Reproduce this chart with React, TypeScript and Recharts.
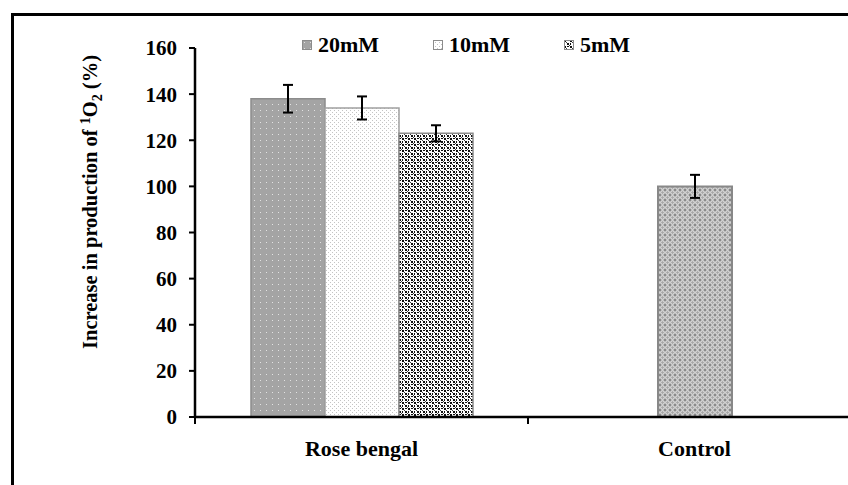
import React from "react";
import { BarChart, Bar, XAxis, YAxis, ErrorBar, Legend } from "recharts";

// Categories on the x axis
const categories = ["Rose bengal", "Control"];

// Singlet-oxygen production (%) per Rose bengal concentration, and the control
const rb20 = [138, null];
const rb10 = [134, null];
const rb5 = [123, null];
const control = [null, 100];

// Standard deviations drawn as error bars
const rb20Err = [6, null];
const rb10Err = [5, null];
const rb5Err = [3.5, null];
const controlErr = [null, 5];

const yTicks = [0, 20, 40, 60, 80, 100, 120, 140, 160];

const legendItems = [
  { label: "20mM", fill: "url(#pat20)" },
  { label: "10mM", fill: "url(#pat10)" },
  { label: "5mM", fill: "url(#pat5)" },
];

const data = categories.map((name, i) => ({
  name,
  rb20: rb20[i],
  rb10: rb10[i],
  rb5: rb5[i],
  control: control[i],
  rb20Err: rb20Err[i],
  rb10Err: rb10Err[i],
  rb5Err: rb5Err[i],
  controlErr: controlErr[i],
}));

const FONT = "'Liberation Serif', 'Times New Roman', serif";

const CategoryTick = (props: any) => {
  const { x, y, payload } = props;
  const off = payload && payload.offset ? payload.offset : 0;
  return (
    <g>
      <line x1={x - off} y1={y} x2={x - off} y2={y + 7} stroke="#000" strokeWidth={2} />
      <line x1={x + off} y1={y} x2={x + off} y2={y + 7} stroke="#000" strokeWidth={2} />
      <text
        x={x}
        y={y + 39}
        textAnchor="middle"
        fontFamily={FONT}
        fontWeight="bold"
        fontSize={22}
        fill="#000"
      >
        {payload.value}
      </text>
    </g>
  );
};

const YLabel = () => (
  <text
    transform="translate(97,202) rotate(-90)"
    textAnchor="middle"
    fontFamily={FONT}
    fontWeight="bold"
    fontSize={20.5}
    fill="#000"
  >
    <tspan>Increase in production of </tspan>
    <tspan dy={-7} fontSize={14}>1</tspan>
    <tspan dy={7}>O</tspan>
    <tspan dy={5} fontSize={14}>2</tspan>
    <tspan dy={-5}> (%)</tspan>
  </text>
);

const LegendContent = () => (
  <div style={{ position: "relative", height: 24 }}>
    {legendItems.map((item, i) => (
      <div
        key={item.label}
        style={{
          position: "absolute",
          left: i * 131,
          top: 0,
          display: "flex",
          alignItems: "center",
          whiteSpace: "nowrap",
        }}
      >
        <svg width={10} height={10} style={{ marginRight: 6 }}>
          <rect x={0.5} y={0.5} width={9} height={9} fill={item.fill} stroke="#8c8c8c" strokeWidth={1} />
        </svg>
        <span
          style={{
            fontFamily: FONT,
            fontWeight: "bold",
            fontSize: 22,
            lineHeight: "22px",
            color: "#000",
          }}
        >
          {item.label}
        </span>
      </div>
    ))}
  </div>
);

export default function App() {
  return (
    <div
      style={{
        position: "fixed",
        left: 0,
        top: 0,
        width: 848,
        height: 485,
        overflow: "hidden",
        background: "#fff",
      }}
    >
      <div
        style={{
          position: "absolute",
          left: 11,
          top: 13,
          width: 900,
          height: 500,
          border: "3px solid #000",
        }}
      />
      <div style={{ position: "absolute", left: 0, top: 0 }}>
        <BarChart
          width={880}
          height={485}
          data={data}
          margin={{ top: 48, right: 19, bottom: 38, left: 0 }}
          barGap={0}
        >
          <defs>
            <pattern id="pat20" width={6} height={6} patternUnits="userSpaceOnUse">
              <rect width={6} height={6} fill="#a4a4a4" />
              <rect x={2} y={2} width={1} height={1} fill="#e2e2e2" />
            </pattern>
            <pattern id="pat10" width={4} height={4} patternUnits="userSpaceOnUse">
              <rect width={4} height={4} fill="#ffffff" />
              <rect x={0} y={0} width={1} height={1} fill="#c4c4c4" />
              <rect x={2} y={2} width={1} height={1} fill="#c4c4c4" />
            </pattern>
            <pattern id="pat5" width={6} height={6} patternUnits="userSpaceOnUse">
              <rect width={6} height={6} fill="#ffffff" />
              <rect x={0} y={0} width={2} height={2} fill="#111" />
              <rect x={3} y={0} width={2} height={1} fill="#111" />
              <rect x={3} y={3} width={2} height={2} fill="#111" />
              <rect x={0} y={3} width={1} height={2} fill="#111" />
              <rect x={2} y={2} width={1} height={1} fill="#444" />
              <rect x={5} y={5} width={1} height={1} fill="#444" />
            </pattern>
            <pattern id="patCtl" width={5} height={5} patternUnits="userSpaceOnUse">
              <rect width={5} height={5} fill="#8a8a8a" />
              <circle cx={2.5} cy={2.5} r={1.9} fill="#a6a6a6" stroke="#f2f2f2" strokeWidth={0.9} />
            </pattern>
          </defs>
          <XAxis
            dataKey="name"
            axisLine={{ stroke: "#000", strokeWidth: 2.5 }}
            tickLine={false}
            tickSize={0}
            tickMargin={0}
            height={30}
            tick={<CategoryTick />}
            interval={0}
          />
          <XAxis xAxisId="ctl" dataKey="name" hide />
          <YAxis
            width={195}
            domain={[0, 160]}
            ticks={yTicks}
            interval={0}
            axisLine={{ stroke: "#000", strokeWidth: 2.5 }}
            tickLine={{ stroke: "#000", strokeWidth: 2 }}
            tickSize={6}
            tickMargin={12}
            tick={{ fontFamily: FONT, fontWeight: "bold", fontSize: 21, fill: "#000" }}
            label={<YLabel />}
          />
          <Legend
            layout="horizontal"
            verticalAlign="middle"
            align="center"
            wrapperStyle={{ position: "absolute", left: 302, top: 34, width: 420 }}
            content={<LegendContent />}
          />
          <Bar dataKey="rb20" name="20mM" barSize={74} fill="url(#pat20)" stroke="#8c8c8c" strokeWidth={1.5} isAnimationActive={false}>
            <ErrorBar dataKey="rb20Err" width={5} stroke="#000" strokeWidth={2} direction="y" />
          </Bar>
          <Bar dataKey="rb10" name="10mM" barSize={74} fill="url(#pat10)" stroke="#a0a0a0" strokeWidth={1.5} isAnimationActive={false}>
            <ErrorBar dataKey="rb10Err" width={5} stroke="#000" strokeWidth={2} direction="y" />
          </Bar>
          <Bar dataKey="rb5" name="5mM" barSize={74} fill="url(#pat5)" stroke="#8c8c8c" strokeWidth={1.5} isAnimationActive={false}>
            <ErrorBar dataKey="rb5Err" width={5} stroke="#000" strokeWidth={2} direction="y" />
          </Bar>
          <Bar xAxisId="ctl" dataKey="control" name="Control" barSize={74} fill="url(#patCtl)" stroke="#888" strokeWidth={2} isAnimationActive={false}>
            <ErrorBar dataKey="controlErr" width={5} stroke="#000" strokeWidth={2} direction="y" />
          </Bar>
        </BarChart>
      </div>
    </div>
  );
}
